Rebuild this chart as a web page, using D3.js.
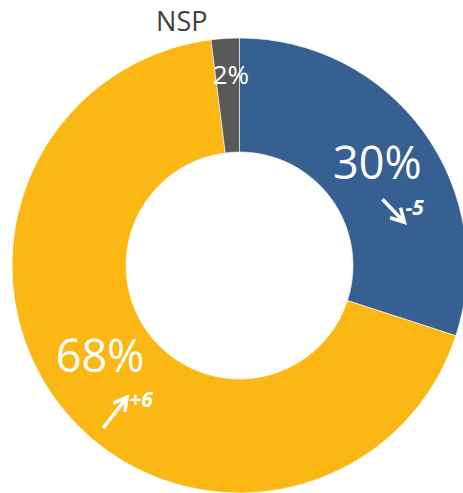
<!DOCTYPE html>
<html>
<head>
<meta charset="utf-8">
<script src="https://cdn.jsdelivr.net/npm/d3@7"></script>
<style>
  body { margin: 0; background: #fff; }
  svg { display: block; font-family: "Open Sans", "Noto Sans", sans-serif; }
</style>
</head>
<body>
<svg id="chart" width="463" height="493"></svg>
<script>
var categories = ["Oui", "Non", "NSP"];
var values = [30, 68, 2];
var changes = ["-5", "+6", null];
var colors = ["#376092", "#fbb714", "#595959"];

var width = 463, height = 493;
var cx = 239.5, cy = 265.5;
var outerR = 227.5, innerR = 113.5;

var svg = d3.select("#chart");
var g = svg.append("g").attr("transform", "translate(" + cx + "," + cy + ")");

var pie = d3.pie().sort(null).value(function(d) { return d; });
var arcs = pie(values);

var arc = d3.arc().innerRadius(innerR).outerRadius(outerR);

g.selectAll("path.slice")
  .data(arcs)
  .enter().append("path")
  .attr("class", "slice")
  .attr("d", arc)
  .attr("fill", function(d, i) { return colors[i]; })
  .attr("stroke", "#fff")
  .attr("stroke-width", 0.6);

// label tweaks (offsets from centroid), like excel does it
var labelOffset = [[0, -2], [-8, -18], [2, -20]];
var labelSize = [45, 45, 26];

g.selectAll("text.perc")
  .data(arcs)
  .enter().append("text")
  .attr("class", "perc")
  .attr("x", function(d, i) { return arc.centroid(d)[0] + labelOffset[i][0]; })
  .attr("y", function(d, i) { return arc.centroid(d)[1] + labelOffset[i][1]; })
  .attr("dy", "0.35em")
  .attr("text-anchor", "middle")
  .attr("fill", "#fff")
  .style("font-size", function(d, i) { return labelSize[i] + "px"; })
  .text(function(d) { return d.value + "%"; });

// category name for the small slice
var nspIndex = categories.indexOf("NSP");
var nspC = arc.centroid(arcs[nspIndex]);
g.append("text")
  .attr("x", nspC[0] - 47)
  .attr("y", -235)
  .attr("text-anchor", "middle")
  .attr("fill", "#404040")
  .style("font-size", "27px")
  .text(categories[nspIndex]);

// change arrows next to the big labels
arcs.forEach(function(d, i) {
  if (!changes[i]) return;
  var c = arc.centroid(d);
  var lx = c[0] + labelOffset[i][0], ly = c[1] + labelOffset[i][1];
  var down = changes[i].charAt(0) === "-";
  var x0, y0, x1, y1;
  if (down) {
    x0 = lx + 5; y0 = ly + 36; x1 = lx + 27; y1 = ly + 59;
  } else {
    x0 = lx + 3; y0 = ly + 72; x1 = lx + 27; y1 = ly + 41;
  }
  var ang = Math.atan2(y1 - y0, x1 - x0);
  var hl = 15, ha = 0.5;
  var p = d3.path();
  p.moveTo(x0, y0); p.lineTo(x1, y1);
  p.moveTo(x1 - hl * Math.cos(ang - ha), y1 - hl * Math.sin(ang - ha));
  p.lineTo(x1, y1);
  p.lineTo(x1 - hl * Math.cos(ang + ha), y1 - hl * Math.sin(ang + ha));
  g.append("path")
    .attr("d", p.toString())
    .attr("fill", "none")
    .attr("stroke", "#fff")
    .attr("stroke-width", 3.5)
    .attr("stroke-linejoin", "miter");
  g.append("text")
    .attr("x", down ? x1 + 1 : x1 + 2)
    .attr("y", down ? ly + 52 : ly + 51)
    .attr("fill", "#fff")
    .style("font-size", "21px")
    .style("font-weight", "bold")
    .style("font-style", "italic")
    .text(changes[i]);
});
</script>
</body>
</html>
